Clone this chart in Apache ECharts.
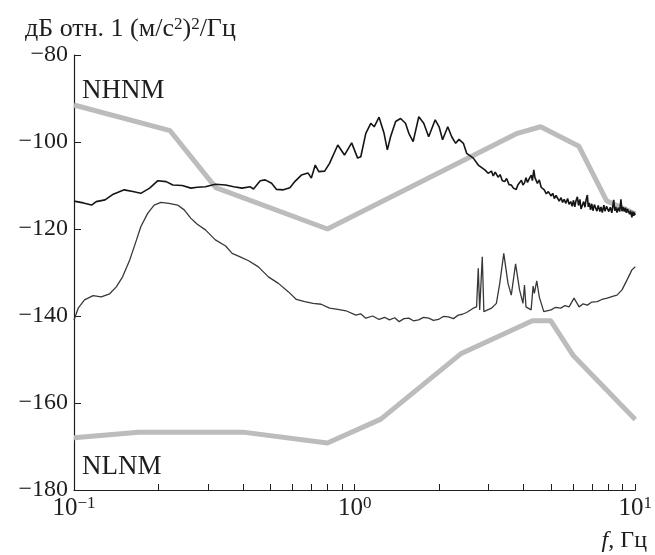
<!DOCTYPE html>
<html>
<head>
<meta charset="utf-8">
<script src="https://cdn.jsdelivr.net/npm/echarts@6/dist/echarts.min.js"></script>
<style>
  html, body { margin: 0; padding: 0; background: #fff; }
  #chart { width: 655px; height: 555px; }
</style>
</head>
<body>
<div id="chart"></div>
<script>
// шкалы
var yTicks = [-180, -160, -140, -120, -100, -80];
var xLabelValues = [0.1, 1, 10];
var xTickValues = [0.1, 0.2, 0.3, 0.4, 0.5, 0.6, 0.7, 0.8, 0.9, 1, 2, 3, 4, 5, 6, 7, 8, 9, 10];

// модели Петерсона (как на рисунке)
var nhnmF = [0.1, 0.22, 0.32, 0.8, 3.8, 4.6, 6.3, 7.9, 10];
var nhnmDb = [-91.5, -97.4, -110.5, -120, -98, -96.5, -101, -113.5, -116.5];
var nlnmF = [0.1, 0.17, 0.4, 0.8, 1.24, 2.4, 4.3, 5.0, 6.0, 10];
var nlnmDb = [-168, -166.7, -166.7, -169.2, -163.7, -148.6, -141.1, -141.1, -149, -163.8];

// верхний спектр
var upperF = [0.1, 0.108, 0.1155, 0.12, 0.129, 0.138, 0.151, 0.162, 0.173, 0.186, 0.199, 0.213, 0.225, 0.243,
  0.261, 0.275, 0.294, 0.319, 0.347, 0.371, 0.397, 0.425, 0.436, 0.461, 0.48, 0.506, 0.527, 0.557, 0.588,
  0.612, 0.646, 0.682, 0.701, 0.724, 0.745, 0.782, 0.814, 0.871, 0.92, 0.976, 1.025, 1.052, 1.096, 1.142,
  1.174, 1.222, 1.273, 1.308, 1.343, 1.4, 1.458, 1.518, 1.56, 1.616, 1.693, 1.763, 1.836, 1.937, 2.0, 2.058,
  2.147, 2.218, 2.291, 2.355, 2.441, 2.507, 2.648, 2.758, 2.911, 2.99, 3.073, 3.12, 3.17, 3.245, 3.3, 3.36,
  3.425, 3.48, 3.55, 3.616, 3.68, 3.765, 3.82, 3.87, 3.93, 3.98, 4.03, 4.08, 4.13, 4.2, 4.26, 4.3, 4.35,
  4.39, 4.43, 4.48, 4.55, 4.62, 4.68, 4.74, 4.82, 4.9, 5.01, 5.08, 5.15, 5.22, 5.29, 5.36, 5.44, 5.51, 5.58,
  5.66, 5.74, 5.81, 5.89, 5.96, 6.02, 6.09, 6.15, 6.22, 6.28, 6.35, 6.41, 6.48, 6.55, 6.62, 6.68, 6.75, 6.8,
  6.86, 6.93, 7.0, 7.07, 7.15, 7.22, 7.3, 7.38, 7.48, 7.55, 7.63, 7.73, 7.8, 7.9, 8.05, 8.15, 8.25, 8.38,
  8.45, 8.52, 8.61, 8.7, 8.8, 8.89, 8.97, 9.05, 9.14, 9.22, 9.3, 9.38, 9.46, 9.55, 9.62, 9.73, 9.8, 9.86,
  9.91, 10];
var upperDb = [-113.6, -114.0, -114.5, -113.7, -113.3, -112.0, -111.0, -111.4, -111.8, -110.6, -108.9, -109.1,
  -109.9, -110.0, -110.6, -110.4, -110.3, -109.7, -109.9, -110.3, -110.6, -110.3, -110.8, -108.9, -108.7,
  -109.5, -110.9, -111.0, -110.5, -109.1, -107.6, -107.1, -108.3, -105.3, -106.8, -106.7, -104.9, -100.7,
  -103.0, -100.2, -103.7, -103.4, -98.0, -95.7, -96.5, -94.3, -98.0, -101.8, -98.8, -95.3, -94.6, -95.7,
  -98.0, -99.9, -94.2, -95.7, -98.8, -94.9, -96.5, -99.5, -96.5, -98.8, -100.3, -99.4, -100.3, -102.6,
  -103.7, -105.3, -106.4, -107.2, -106.7, -107.8, -106.9, -108.1, -107.5, -108.9, -109.1, -108.4, -109.8,
  -109.9, -110.6, -110.9, -109.8, -109.9, -108.8, -109.9, -109.4, -108.2, -109.3, -108.3, -107.6, -108.9,
  -106.4, -108.2, -107.8, -109.5, -108.7, -110.4, -110.0, -111.0, -111.9, -111.4, -112.4, -111.8, -113.0,
  -112.3, -112.6, -113.6, -112.8, -113.9, -113.2, -114.1, -113.0, -114.3, -113.7, -114.8, -113.4, -114.9,
  -113.5, -112.6, -114.6, -113.2, -115.4, -115.2, -113.7, -115.0, -113.3, -112.2, -114.9, -114.0, -115.6,
  -114.2, -115.8, -114.4, -114.1, -115.9, -114.6, -116.0, -114.9, -116.2, -114.5, -115.9, -114.8, -116.0,
  -115.0, -116.3, -113.3, -115.8, -114.9, -116.2, -115.1, -116.0, -113.2, -115.9, -115.0, -116.0, -115.1,
  -116.3, -115.4, -115.2, -116.6, -115.8, -117.3, -116.0, -117.0, -116.2, -116.8];

// нижний спектр
var lowerF = [0.1, 0.1035, 0.109, 0.117, 0.125, 0.134, 0.1415, 0.149, 0.158, 0.167, 0.173, 0.183, 0.193, 0.204,
  0.218, 0.234, 0.247, 0.2605, 0.275, 0.294, 0.319, 0.347, 0.366, 0.391, 0.419, 0.454, 0.493, 0.535, 0.58,
  0.62, 0.664, 0.711, 0.76, 0.814, 0.871, 0.932, 1.01, 1.05, 1.096, 1.16, 1.222, 1.28, 1.33, 1.39, 1.44, 1.5,
  1.56, 1.62, 1.69, 1.76, 1.836, 1.91, 1.99, 2.07, 2.16, 2.25, 2.34, 2.42, 2.507, 2.648, 2.72, 2.758, 2.79,
  2.85, 2.888, 3.073, 3.2, 3.29, 3.4, 3.52, 3.616, 3.746, 3.87, 3.98, 4.03, 4.08, 4.256, 4.325, 4.37, 4.456,
  4.55, 4.72, 5.01, 5.2, 5.43, 5.62, 5.81, 6.05, 6.31, 6.52, 6.75, 7.0, 7.32, 7.6, 7.94, 8.3, 8.61, 8.97,
  9.35, 9.73, 10];
var lowerDb = [-140.9, -138.2, -136.3, -135.3, -135.6, -134.9, -133.3, -131.0, -127.1, -122.5, -119.5, -116.4,
  -114.5, -113.9, -114.1, -114.5, -115.6, -117.5, -118.9, -120.2, -122.5, -123.9, -125.6, -126.4, -127.3,
  -128.7, -131.0, -132.5, -134.4, -136.2, -136.7, -137.1, -137.3, -138.2, -138.5, -138.8, -139.8, -139.5,
  -140.5, -140.0, -140.8, -140.3, -140.9, -140.4, -141.3, -140.6, -140.5, -141.1, -140.9, -140.3, -140.5,
  -141.0, -140.8, -140.1, -140.2, -140.6, -139.8, -139.6, -139.2, -138.2, -137.9, -129.0, -138.6, -126.4,
  -139.0, -138.2, -137.1, -132.5, -125.6, -132.5, -135.2, -128.0, -134.0, -137.1, -132.9, -137.9, -138.6,
  -133.1, -134.8, -131.9, -135.6, -139.0, -138.6, -138.0, -138.2, -137.6, -137.9, -135.9, -137.9, -137.2,
  -137.5, -136.8, -136.7, -136.2, -135.9, -135.5, -135.2, -134.0, -131.7, -129.4, -128.7];

function pairs(xs, ys) {
    return xs.map(function (x, i) { return [x, ys[i]]; });
}

var serif = 'Liberation Serif';
var ink = '#1e1e1e';
var chart = echarts.init(document.getElementById('chart'));

var option = {
    animation: false,
    backgroundColor: '#fff',
    textStyle: { fontFamily: serif },
    grid: { left: 74, right: 15, top: 55, bottom: 65 },
    title: [
        {
            text: 'дБ отн. 1 (м/с{s|2}){s|2}/Гц',
            left: 20, top: 11,
            textStyle: {
                fontFamily: serif, fontSize: 26, fontWeight: 'normal', color: ink,
                rich: { s: { fontFamily: serif, fontSize: 17, color: ink, verticalAlign: 'top', lineHeight: 16 } }
            }
        },
        {
            text: '{i|f}, Гц',
            right: 3, top: 524,
            textStyle: {
                fontFamily: serif, fontSize: 24, fontWeight: 'normal', color: ink,
                rich: { i: { fontFamily: serif, fontSize: 24, fontStyle: 'italic', color: ink } }
            }
        },
        {
            text: 'NHNM', left: 77, top: 72,
            textStyle: { fontFamily: serif, fontSize: 27, fontWeight: 'normal', color: ink }
        },
        {
            text: 'NLNM', left: 77, top: 448,
            textStyle: { fontFamily: serif, fontSize: 27, fontWeight: 'normal', color: ink }
        }
    ],
    xAxis: {
        type: 'log',
        logBase: 10,
        min: 0.1,
        max: 10,
        axisLine: { lineStyle: { color: ink, width: 1.2 } },
        axisTick: { inside: true, length: 6, customValues: xTickValues, lineStyle: { color: ink, width: 1 } },
        splitLine: { show: false },
        axisLabel: {
            customValues: xLabelValues,
            margin: 5,
            formatter: function (v) {
                var e = Math.round(Math.log10(v));
                return '{b|10}{s|' + (e < 0 ? '−' + (-e) : e) + '}';
            },
            rich: {
                b: { fontFamily: serif, fontSize: 25, color: ink, lineHeight: 26 },
                s: { fontFamily: serif, fontSize: 17, color: ink, lineHeight: 15, verticalAlign: 'top' }
            }
        }
    },
    yAxis: {
        type: 'value',
        min: -180,
        max: -80,
        interval: 20,
        axisLine: { show: true, lineStyle: { color: ink, width: 1.2 } },
        axisTick: { inside: true, length: 7, lineStyle: { color: ink, width: 1 } },
        splitLine: { show: false },
        axisLabel: {
            margin: 6,
            fontFamily: serif,
            fontSize: 24,
            color: ink,
            formatter: function (v) { return v < 0 ? '−' + Math.abs(v) : String(v); }
        }
    },
    series: [
        {
            name: 'NHNM', type: 'line', symbol: 'none', z: 2,
            lineStyle: { color: '#bcbcbe', width: 5 },
            data: pairs(nhnmF, nhnmDb)
        },
        {
            name: 'NLNM', type: 'line', symbol: 'none', z: 2,
            lineStyle: { color: '#bcbcbe', width: 5 },
            data: pairs(nlnmF, nlnmDb)
        },
        {
            name: 'upper', type: 'line', symbol: 'none', z: 3,
            lineStyle: { color: '#151515', width: 1.6 },
            data: pairs(upperF, upperDb)
        },
        {
            name: 'lower', type: 'line', symbol: 'none', z: 3,
            lineStyle: { color: '#383838', width: 1.3 },
            data: pairs(lowerF, lowerDb)
        }
    ]
};

chart.setOption(option);
</script>
</body>
</html>
